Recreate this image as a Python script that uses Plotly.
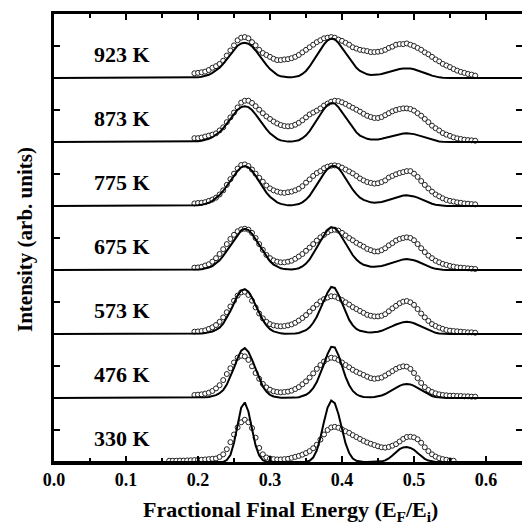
import plotly.graph_objects as go

# Panel labels, bottom to top
temps = ["330 K", "476 K", "573 K", "675 K", "775 K", "873 K", "923 K"]

# Measured data (open circles), grid 0.195..0.585 step 0.005 (330 K: 0.16..0.555)
meas_start = 0.195
meas_330_start = 0.16
step = 0.005

meas_330 = [0.02, 0.02, 0.02, 0.022, 0.022, 0.025, 0.027, 0.03, 0.035, 0.035,
            0.04, 0.045, 0.05, 0.055, 0.08, 0.12, 0.2, 0.31, 0.43, 0.54,
            0.62, 0.66, 0.62, 0.53, 0.38, 0.22, 0.12, 0.07, 0.055, 0.045,
            0.04, 0.04, 0.045, 0.05, 0.065, 0.08, 0.095, 0.115, 0.14, 0.17,
            0.215, 0.27, 0.35, 0.43, 0.5, 0.54, 0.55, 0.535, 0.51, 0.48,
            0.455, 0.42, 0.39, 0.36, 0.33, 0.305, 0.285, 0.265, 0.245, 0.23,
            0.225, 0.235, 0.255, 0.28, 0.32, 0.36, 0.39, 0.395, 0.385, 0.355,
            0.3, 0.23, 0.17, 0.12, 0.085, 0.06, 0.045, 0.035, 0.025, 0.02]
meas_476 = [.047, .052, .057, .068, .083, .11, .15, .20, .28, .375,
            .465, .555, .63, .66, .65, .595, .495, .39, .30, .22,
            .165, .13, .105, .094, .089, .094, .10, .115, .14, .17,
            .215, .26, .32, .385, .455, .515, .57, .61, .63, .62,
            .595, .555, .515, .48, .44, .41, .385, .36, .333, .31,
            .30, .307, .32, .35, .385, .42, .455, .48, .495, .49,
            .455, .39, .31, .235, .17, .125, .094, .073, .057, .047,
            .042, .036, .036, .031, .031, .026, .026, .021, .021]
meas_573 = [.036, .04, .047, .057, .08, .105, .14, .19, .26, .34,
            .43, .52, .60, .65, .66, .61, .52, .415, .32, .245,
            .19, .155, .135, .125, .12, .125, .135, .15, .175, .21,
            .25, .295, .35, .405, .46, .51, .545, .57, .59, .585,
            .56, .53, .495, .46, .42, .39, .36, .33, .30, .285,
            .275, .275, .285, .31, .355, .40, .44, .48, .505, .515,
            .495, .455, .39, .32, .26, .205, .155, .125, .10, .08,
            .063, .052, .047, .042, .036, .031, .026, .026, .02]
meas_675 = [.037, .04, .05, .07, .09, .13, .185, .25, .325, .405,
            .485, .55, .605, .635, .645, .63, .58, .50, .405, .315,
            .235, .185, .15, .13, .12, .12, .13, .145, .175, .21,
            .25, .30, .35, .405, .46, .51, .55, .59, .62, .63,
            .615, .58, .54, .50, .465, .425, .395, .365, .33, .31,
            .29, .29, .31, .34, .385, .42, .46, .485, .50, .51,
            .50, .465, .405, .34, .28, .225, .185, .145, .12, .095,
            .08, .063, .053, .042, .037, .032, .026, .021, .016]
meas_775 = [.04, .047, .05, .06, .08, .10, .13, .18, .245, .33,
            .42, .505, .585, .64, .65, .625, .57, .505, .44, .38,
            .32, .275, .245, .225, .21, .205, .215, .225, .245, .27,
            .31, .365, .415, .47, .515, .545, .59, .615, .63, .635,
            .625, .60, .57, .54, .51, .47, .43, .40, .375, .36,
            .35, .355, .375, .40, .445, .47, .495, .515, .53, .545,
            .545, .505, .455, .39, .33, .275, .225, .18, .15, .12,
            .095, .08, .07, .057, .05, .04, .036, .03, .026]
meas_873 = [.06, .06, .07, .085, .10, .115, .135, .18, .23, .31,
            .385, .46, .54, .615, .645, .645, .61, .56, .505, .45,
            .40, .36, .32, .29, .265, .25, .245, .25, .27, .30,
            .34, .385, .43, .46, .49, .525, .57, .60, .63, .645,
            .64, .62, .595, .565, .535, .505, .475, .44, .41, .39,
            .375, .375, .39, .42, .45, .48, .50, .515, .525, .525,
            .515, .49, .45, .41, .36, .31, .255, .215, .18, .14,
            .115, .095, .073, .057, .047, .036, .03, .026, .02]
meas_923 = [.074, .08, .09, .10, .125, .16, .185, .22, .27, .35,
            .43, .51, .59, .63, .64, .62, .56, .51, .44, .39,
            .36, .33, .30, .28, .28, .29, .295, .31, .33, .36,
            .40, .44, .48, .52, .56, .59, .62, .63, .64, .63,
            .60, .58, .55, .52, .48, .46, .44, .43, .42, .405,
            .405, .41, .42, .44, .47, .49, .52, .53, .53, .54,
            .52, .50, .47, .44, .40, .37, .33, .29, .26, .22,
            .195, .17, .14, .115, .095, .08, .063, .053, .037]

# Model curves (solid lines), grid 0.19..0.55 step 0.005 (330 K: 0.235..0.53)
model_start = 0.19
model_330_start = 0.235
x_min, x_max = 0.0, 0.65

model_330 = [0, .03, .11, .30, .58, .85, .93, .79, .52, .26,
             .10, .03, .005, 0, 0, 0, 0, 0, 0, 0,
             0, 0, 0, .005, .02, .07, .18, .38, .63, .85,
             .96, .92, .75, .51, .29, .14, .055, .018, .005, 0,
             0, 0, 0, 0, .01, .025, .055, .1, .15, .2,
             .228, .235, .22, .19, .14, .09, .05, .022, .008, 0]
model_476 = [0, .002, .003, .006, .01, .017, .028, .045, .075, .125,
             .21, .33, .47, .62, .74, .78, .72, .60, .45, .30,
             .18, .10, .05, .024, .011, .005, .003, .002, .003, .006,
             .013, .026, .05, .09, .155, .25, .38, .53, .69, .80,
             .79, .67, .50, .33, .20, .11, .058, .03, .017, .012,
             .012, .016, .025, .04, .062, .09, .122, .157, .19, .212,
             .22, .212, .19, .158, .12, .085, .055, .032, .016, .007,
             .002, 0, 0]
model_573 = [0, .002, .004, .008, .014, .024, .04, .065, .10, .16,
             .25, .36, .48, .60, .68, .70, .66, .57, .45, .33,
             .22, .135, .075, .04, .02, .01, .005, .004, .004, .008,
             .016, .032, .06, .105, .175, .27, .39, .52, .65, .735,
             .72, .62, .48, .34, .22, .135, .08, .05, .034, .027,
             .025, .027, .035, .05, .07, .095, .122, .148, .17, .185,
             .19, .185, .168, .143, .113, .083, .056, .034, .018, .008,
             .003, 0, 0]
model_675 = [0, .003, .007, .013, .022, .038, .062, .10, .15, .22,
             .30, .39, .48, .56, .62, .645, .625, .565, .48, .385,
             .29, .205, .135, .085, .05, .027, .014, .008, .008, .014,
             .028, .055, .10, .165, .25, .35, .45, .55, .63, .67,
             .655, .60, .51, .41, .315, .23, .165, .115, .082, .062,
             .052, .05, .053, .062, .077, .096, .118, .138, .155, .166,
             .17, .165, .152, .132, .107, .08, .055, .034, .018, .008,
             .003, 0, 0]
model_775 = [0, .004, .01, .018, .03, .05, .08, .12, .17, .235,
             .31, .39, .47, .55, .605, .625, .605, .55, .47, .38,
             .29, .21, .145, .095, .058, .033, .018, .01, .01, .016,
             .03, .058, .10, .16, .24, .33, .42, .51, .58, .62,
             .625, .59, .52, .43, .34, .255, .185, .13, .095, .07,
             .057, .05, .052, .062, .078, .097, .118, .137, .152, .163,
             .167, .163, .15, .13, .105, .08, .055, .035, .02, .01,
             .004, 0, 0]
model_873 = [0, .005, .01, .02, .03, .05, .075, .11, .155, .215,
             .29, .365, .44, .505, .545, .56, .545, .50, .43, .35,
             .27, .20, .135, .085, .05, .025, .012, .006, .006, .012,
             .028, .06, .105, .17, .25, .34, .43, .515, .58, .61,
             .60, .545, .465, .38, .29, .21, .15, .10, .07, .05,
             .038, .035, .04, .05, .065, .085, .10, .115, .125, .133,
             .135, .132, .123, .108, .09, .07, .05, .032, .018, .008,
             .003, 0, 0]
model_923 = [0, .005, .01, .02, .03, .05, .08, .115, .16, .22,
             .295, .37, .44, .505, .54, .55, .535, .495, .43, .35,
             .27, .205, .14, .09, .05, .026, .016, .01, .01, .016,
             .03, .063, .11, .18, .26, .35, .44, .525, .59, .615,
             .605, .55, .47, .39, .30, .22, .16, .11, .08, .058,
             .047, .047, .053, .063, .08, .10, .115, .13, .14, .147,
             .15, .147, .137, .12, .10, .08, .058, .037, .02, .01,
             .005, 0, 0]

x_ticks = [0.0, 0.1, 0.2, 0.3, 0.4, 0.5, 0.6]

panels = [
    (temps[0], meas_330_start, meas_330, model_330_start, model_330),
    (temps[1], meas_start, meas_476, model_start, model_476),
    (temps[2], meas_start, meas_573, model_start, model_573),
    (temps[3], meas_start, meas_675, model_start, model_675),
    (temps[4], meas_start, meas_775, model_start, model_775),
    (temps[5], meas_start, meas_873, model_start, model_873),
    (temps[6], meas_start, meas_923, model_start, model_923),
]

SERIF = "Liberation Serif"
fig = go.Figure()
annotations = []
for i, (lab, ms, mv, ds, dv) in enumerate(panels):
    mx = [round(ms + step * k, 4) for k in range(len(mv))]
    dx = [x_min] + [round(ds + step * k, 4) for k in range(len(dv))] + [x_max]
    dy = [i] + [v + i for v in dv] + [i]
    fig.add_trace(go.Scatter(
        x=mx, y=[v + i for v in mv], mode="markers", showlegend=False,
        marker=dict(symbol="circle", size=5, color="white",
                    line=dict(color="#222222", width=1)),
        hoverinfo="skip"))
    fig.add_trace(go.Scatter(
        x=dx, y=dy, mode="lines", showlegend=False,
        line=dict(color="black", width=2), hoverinfo="skip",
        yaxis="y2" if i == 0 else "y"))
    annotations.append(dict(
        x=0.053, y=i + 0.37, xref="x", yref="y", text=lab, showarrow=False,
        xanchor="left", yanchor="middle",
        font=dict(family=SERIF, size=22, color="black", weight="bold")))

annotations.append(dict(
    x=(290 - 54) / 468, y=(462 - 511) / 448, xref="paper", yref="paper",
    text="Fractional Final Energy (E<sub>F</sub>/E<sub>i</sub>)", showarrow=False,
    xanchor="center", yanchor="middle",
    font=dict(family=SERIF, size=22, color="black", weight="bold")))
annotations.append(dict(
    x=(25 - 54) / 468, y=(462 - 240) / 448, xref="paper", yref="paper",
    text="Intensity (arb. units)", showarrow=False, textangle=-90,
    xanchor="center", yanchor="middle",
    font=dict(family=SERIF, size=21, color="black", weight="bold")))

fig.update_layout(
    width=522, height=525,
    margin=dict(l=54, r=0, t=14, b=63),
    paper_bgcolor="white", plot_bgcolor="white",
    annotations=annotations,
    xaxis=dict(range=[x_min, x_max], showline=True, linewidth=2.5, linecolor="black",
               mirror="ticks", ticks="inside", ticklen=6, tickwidth=2, tickcolor="black",
               tickvals=x_ticks, ticktext=[f"{v:.1f}" for v in x_ticks],
               minor=dict(dtick=0.05, tick0=0, ticks="inside", ticklen=4, tickwidth=2, tickcolor="black"),
               showgrid=False, zeroline=False,
               tickfont=dict(family=SERIF, size=18, color="black", weight="bold")),
    yaxis=dict(range=[0, 7], showline=True, linewidth=2.5, linecolor="black",
               ticks="inside", ticklen=6, tickwidth=2, tickcolor="black",
               dtick=0.5, tick0=0, showticklabels=False, showgrid=False, zeroline=False),
    yaxis2=dict(range=[0, 7], overlaying="y", side="right", showline=False,
                ticks="inside", ticklen=6, tickwidth=2, tickcolor="black",
                dtick=0.5, tick0=0, showticklabels=False, showgrid=False, zeroline=False),
)

fig.write_html("out.html")
